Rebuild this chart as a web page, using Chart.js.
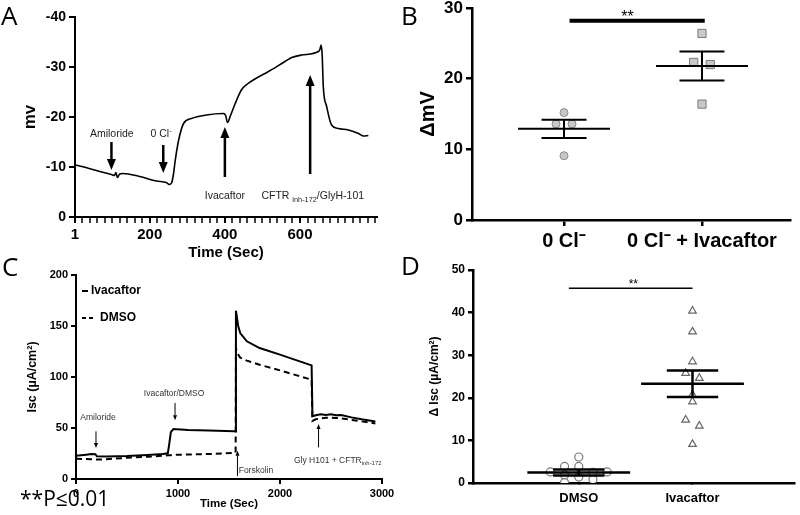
<!DOCTYPE html>
<html>
<head>
<meta charset="utf-8">
<script src="https://cdn.jsdelivr.net/npm/chart.js@4.4.0/dist/chart.umd.min.js"></script>
<style>
  body { margin: 0; background: #fff; width: 800px; height: 515px; position: relative; overflow: hidden; }
  canvas { position: absolute; left: 0; top: -20px; }
  .panel { position: absolute; font-family: "Open Sans", "Noto Sans", sans-serif; color: #000; line-height: 1; }
</style>
</head>
<body>
<canvas id="chartA" width="800" height="555"></canvas>
<canvas id="chartB" width="800" height="555"></canvas>
<canvas id="chartC" width="800" height="555"></canvas>
<canvas id="chartD" width="800" height="555"></canvas>
<div class="panel" style="left:1px;top:2px;font-size:26px">A</div>
<div class="panel" style="left:401px;top:2px;font-size:26px">B</div>
<div class="panel" style="left:2px;top:253px;font-size:26px">C</div>
<div class="panel" style="left:401px;top:252px;font-size:26px">D</div>
<div class="panel" style="left:20px;top:488px;font-size:21px">**P≤0.01</div>
<script>
// ---- Panel A: voltage trace ----
const aTime = [1, 30, 67, 98, 106, 110, 114, 120, 129, 173, 218, 244, 252, 258, 263, 268, 277, 290, 311, 351,
  396, 402, 407, 415, 427, 444, 460, 480, 516, 560, 578, 604, 649, 653, 656, 659, 662, 671, 684, 702,
  729, 756, 769, 782];
const aMv = [-10.4, -9.9, -9.1, -8.5, -8.3, -8.9, -7.9, -8.6, -8.7, -8.1, -7.2, -6.9, -6.5, -6.8, -8.5, -11.4, -15.4, -18.7, -19.7, -20.4,
  -20.7, -20.3, -18.9, -20.3, -22.6, -25.4, -26.6, -27.6, -29.1, -31.1, -31.9, -32.4, -33.1, -33.5, -34.4, -32.5, -26.1, -22.1, -18.4, -17.7,
  -17.4, -16.7, -16.2, -16.3];
const aXMajor = [1, 200, 400, 600];
const aXLabels = ["1", "200", "400", "600"];

// ---- Panel B: delta mV ----
const bGroups = ["0 Cl⁻", "0 Cl⁻ + Ivacaftor"];
const bCtrl = [15.2, 13.6, 13.6, 9.1];
const bCtrlX = [0, -0.058, 0.058, 0];
const bIva = [26.4, 22.3, 22.0, 16.4];
const bIvaX = [0, -0.06, 0.06, 0];
const bMean = [12.9, 21.8];
const bSem = [1.3, 2.05];

// ---- Panel C: Isc traces ----
const cTime = [0, 100, 150, 190, 205, 300, 500, 700, 850, 900, 915, 930, 955, 1100, 1300, 1550, 1565, 1568, 1590, 1610,
  1675, 1800, 2000, 2165, 2310, 2318, 2350, 2400, 2450, 2500, 2550, 2600, 2700, 2800, 2935];
const cIvacaftor = [22.8, 23.8, 24.4, 24.3, 22.3, 22.0, 22.5, 23.5, 24.5, 25.2, 35, 46, 49, 48, 47.6, 46.8, 46.7, 165, 150, 143,
  135, 128.4, 121.9, 116.3, 111.4, 61.4, 62.5, 63.5, 62.8, 63.5, 62.6, 62.8, 60.4, 58.5, 56.3];
const cDmso = [19.9, 19.6, 19.3, 19.0, 19.0, 19.4, 20.8, 21.8, 22.8, 23.2, 23.3, 23.4, 23.6, 24.0, 24.5, 25.5, 26.0, 128, 122, 119,
  116, 112, 106.5, 101.6, 97.3, 57.0, 58.5, 59.5, 60.0, 60.0, 59.8, 59.5, 58.0, 56.5, 54.5];

// ---- Panel D: delta Isc ----
const dGroups = ["DMSO", "Ivacaftor"];
const dDmso = [2.6, 3.9, 1.9, 0.1, 6.1, 3.9, 1.4, 2.5, 0.8, 2.6];
const dDmsoX = [-0.25, -0.125, -0.125, -0.125, 0, 0, 0, 0.125, 0.125, 0.25];
const dIva = [40.4, 35.5, 28.5, 25.8, 24.6, 20.7, 19.1, 14.8, 13.4, 9.1];
const dIvaX = [0, 0, 0, -0.06, 0.06, 0, 0, -0.06, 0.06, 0];
const dMean = [2.45, 23.3];
const dSem = [0.7, 3.1];

const FONT = '"Liberation Sans", Arial, sans-serif';
Chart.defaults.font.family = FONT;
Chart.defaults.color = '#000';
Chart.defaults.animation = false;
Chart.defaults.responsive = false;
Chart.defaults.plugins.legend.display = false;
Chart.defaults.plugins.tooltip.enabled = false;

// text with sub/superscript pieces, centered or left aligned
function drawRich(ctx, parts, x, y, size, align) {
  let total = 0;
  parts.forEach(p => {
    ctx.font = (p.sub || p.sup ? size * 0.7 : size) + 'px ' + FONT;
    p.w = ctx.measureText(p.t).width;
    total += p.w;
  });
  let cx = align === 'left' ? x : x - total / 2;
  ctx.textAlign = 'left';
  ctx.textBaseline = 'middle';
  parts.forEach(p => {
    ctx.font = (p.sub || p.sup ? size * 0.7 : size) + 'px ' + FONT;
    const dy = p.sub ? size * 0.35 : p.sup ? -size * 0.3 : 0;
    ctx.fillText(p.t, cx, y + dy);
    cx += p.w;
  });
}

function drawArrow(ctx, x, y0, y1, lw, headW, headL) {
  const dir = y1 > y0 ? 1 : -1;
  ctx.lineWidth = lw;
  ctx.beginPath();
  ctx.moveTo(x, y0);
  ctx.lineTo(x, y1 - dir * headL);
  ctx.stroke();
  ctx.beginPath();
  ctx.moveTo(x, y1);
  ctx.lineTo(x - headW / 2, y1 - dir * headL);
  ctx.lineTo(x + headW / 2, y1 - dir * headL);
  ctx.closePath();
  ctx.fill();
}

// arrows + labels placed in data units
function markerPlugin(marks, style) {
  return {
    id: 'markers',
    afterDatasetsDraw(chart) {
      const { ctx, scales: { x, y } } = chart;
      ctx.save();
      ctx.strokeStyle = '#000';
      ctx.fillStyle = '#000';
      marks.forEach(m => {
        drawArrow(ctx, x.getPixelForValue(m.t), y.getPixelForValue(m.from), y.getPixelForValue(m.to),
          style.lw, style.headW, style.headL);
      });
      ctx.fillStyle = style.textColor;
      marks.forEach(m => {
        drawRich(ctx, m.label, x.getPixelForValue(m.textT), y.getPixelForValue(m.textV), style.size, m.align);
      });
      ctx.restore();
    }
  };
}

// small legend inside the plot, top-left
const insideLegend = {
  id: 'insideLegend',
  afterDraw(chart) {
    const { ctx, chartArea } = chart;
    chart.data.datasets.forEach((ds, i) => {
      const y = chartArea.top + 16 + i * 27;
      const dashed = !!ds.borderDash;
      ctx.save();
      ctx.strokeStyle = ds.borderColor;
      ctx.lineWidth = ds.borderWidth;
      ctx.setLineDash(dashed ? [4, 3] : []);
      ctx.beginPath();
      ctx.moveTo(chartArea.left + 6, y);
      ctx.lineTo(chartArea.left + (dashed ? 20 : 12), y);
      ctx.stroke();
      ctx.fillStyle = '#000';
      ctx.font = 'bold 12px ' + FONT;
      ctx.textBaseline = 'middle';
      ctx.fillText(ds.label, chartArea.left + (dashed ? 24 : 15), y);
      ctx.restore();
    });
  }
};

// mean + SEM bars and significance line
function meanSemPlugin(means, sems, cfg) {
  return {
    id: 'meanSem',
    afterDatasetsDraw(chart) {
      const { ctx, scales: { x, y } } = chart;
      ctx.save();
      ctx.strokeStyle = '#000';
      ctx.lineWidth = cfg.lineWidth;
      means.forEach((m, i) => {
        const c = i + 1;
        const xc = x.getPixelForValue(c);
        const yM = y.getPixelForValue(m);
        const yHi = y.getPixelForValue(m + sems[i]);
        const yLo = y.getPixelForValue(m - sems[i]);
        ctx.beginPath();
        ctx.moveTo(x.getPixelForValue(c - cfg.meanHalf), yM);
        ctx.lineTo(x.getPixelForValue(c + cfg.meanHalf), yM);
        [yHi, yLo].forEach(yy => {
          ctx.moveTo(x.getPixelForValue(c - cfg.capHalf), yy);
          ctx.lineTo(x.getPixelForValue(c + cfg.capHalf), yy);
        });
        ctx.moveTo(xc, yHi);
        ctx.lineTo(xc, yLo);
        ctx.stroke();
      });
      const s = cfg.sig;
      const ys = y.getPixelForValue(s.level);
      ctx.lineWidth = s.lineWidth;
      ctx.beginPath();
      ctx.moveTo(x.getPixelForValue(s.from), ys);
      ctx.lineTo(x.getPixelForValue(s.to), ys);
      ctx.stroke();
      ctx.fillStyle = '#000';
      ctx.font = s.size + 'px ' + FONT;
      ctx.textAlign = 'center';
      ctx.textBaseline = 'alphabetic';
      ctx.fillText('**', x.getPixelForValue(s.textX), ys + s.textDy);
      ctx.restore();
    }
  };
}

function axis(lw, tickLen, size) {
  return {
    grid: { display: true, drawOnChartArea: false, drawTicks: true, tickLength: tickLen, tickWidth: lw, tickColor: '#000', color: '#000', lineWidth: lw },
    border: { display: true, color: '#000', width: lw },
    ticks: { font: { size: size, weight: 'bold' }, color: '#000', autoSkip: false, maxRotation: 0, padding: 3 }
  };
}

// ---- A ----
const aXTicks = [];
for (let v = 20; v <= 800; v += 20) aXTicks.push(v);
aXTicks.unshift(1);
const aMarks = [
  { t: 98, from: -15, to: -9.4, textT: 99, textV: -16.6, label: [{ t: 'Amiloride' }] },
  { t: 236, from: -14.4, to: -8.8, textT: 230, textV: -16.6, label: [{ t: '0 Cl' }, { t: '-', sup: true }] },
  { t: 400, from: -8, to: -18, textT: 400, textV: -4.1, label: [{ t: 'Ivacaftor' }] },
  { t: 627, from: -8.6, to: -28.4, textT: 634, textV: -4.1, label: [{ t: 'CFTR ' }, { t: 'inh-172', sub: true }, { t: '/GlyH-101' }] }
];
const axA = axis(2, 6, 15);
axA.grid.tickWidth = c => (c.tick && aXMajor.includes(c.tick.value) ? 2 : 1.5);
const ayA = axis(2, 6, 14);
new Chart(document.getElementById('chartA'), {
  type: 'line',
  data: { datasets: [{ data: aTime.map((t, i) => ({ x: t, y: aMv[i] })), borderColor: '#000', borderWidth: 1.6,
    pointRadius: 0, cubicInterpolationMode: 'monotone' }] },
  options: {
    layout: { padding: { left: 15, right: 423, top: 37, bottom: 273 } },
    scales: {
      x: Object.assign(axA, {
        type: 'linear', min: 1, max: 805,
        afterBuildTicks: s => { s.ticks = aXTicks.map(v => ({ value: v })); },
        afterFit: s => { s.height = 45; },
        ticks: Object.assign(axA.ticks, { callback: v => { const i = aXMajor.indexOf(v); return i >= 0 ? aXLabels[i] : ''; } }),
        title: { display: true, text: 'Time (Sec)', font: { size: 15, weight: 'bold' }, padding: 0 }
      }),
      y: Object.assign(ayA, {
        reverse: true, min: -40, max: 0,
        ticks: Object.assign(ayA.ticks, { stepSize: 10 }),
        afterFit: s => { s.width = 60; },
        title: { display: true, text: 'mv', font: { size: 17, weight: 'bold' }, padding: 5 }
      })
    }
  },
  plugins: [markerPlugin(aMarks, { lw: 2.5, headW: 9, headL: 11, size: 10.5, textColor: '#222' })]
});

// ---- B ----
const axB = axis(2.5, 6, 20);
const ayB = axis(2.5, 6, 17);
new Chart(document.getElementById('chartB'), {
  type: 'scatter',
  data: { datasets: [
    { data: bCtrl.map((v, i) => ({ x: 1 + bCtrlX[i], y: v })), pointStyle: 'circle', pointRadius: 4,
      backgroundColor: '#c8c8c8', borderColor: '#8a8a8a', borderWidth: 1 },
    { data: bIva.map((v, i) => ({ x: 2 + bIvaX[i], y: v })), pointStyle: 'rect', pointRadius: 5.8,
      backgroundColor: '#c8c8c8', borderColor: '#7a7a7a', borderWidth: 1 }
  ] },
  options: {
    layout: { padding: { left: 416, right: 10, top: 28, bottom: 275 } },
    scales: {
      x: Object.assign(axB, {
        type: 'linear', min: 0.333, max: 2.638,
        afterBuildTicks: s => { s.ticks = [{ value: 1 }, { value: 2 }]; },
        afterFit: s => { s.height = 40; },
        ticks: Object.assign(axB.ticks, { callback: v => bGroups[v - 1] })
      }),
      y: Object.assign(ayB, {
        min: 0, max: 30,
        ticks: Object.assign(ayB.ticks, { stepSize: 10 }),
        afterFit: s => { s.width = 56; },
        title: { display: true, text: 'ΔmV', font: { size: 20, weight: 'bold' }, padding: 0 }
      })
    }
  },
  plugins: [meanSemPlugin(bMean, bSem, { lineWidth: 2, meanHalf: 0.333, capHalf: 0.163,
    sig: { from: 1.04, to: 2.02, level: 28.2, lineWidth: 4, size: 16, textX: 1.46, textDy: 1 } })]
});

// ---- C ----
const cMarks = [
  { t: 196, from: 46.7, to: 30.4, textT: 216, textV: 59.8, label: [{ t: 'Amiloride' }] },
  { t: 971, from: 74.5, to: 57.5, textT: 961, textV: 83.3, label: [{ t: 'Ivacaftor/DMSO' }] },
  { t: 1583, from: 3, to: 27.7, textT: 1595, textV: 8.1, align: 'left', label: [{ t: 'Forskolin' }] },
  { t: 2378, from: 31, to: 53.9, textT: 2566, textV: 17.9, label: [{ t: 'Gly H101 + CFTR' }, { t: 'inh-172', sub: true }] }
];
const axC = axis(2, 5, 11);
const ayC = axis(2, 5, 11);
new Chart(document.getElementById('chartC'), {
  type: 'line',
  data: { datasets: [
    { label: 'Ivacaftor', data: cTime.map((t, i) => ({ x: t, y: cIvacaftor[i] })), borderColor: '#000',
      borderWidth: 2, pointRadius: 0, tension: 0 },
    { label: 'DMSO', data: cTime.map((t, i) => ({ x: t, y: cDmso[i] })), borderColor: '#000',
      borderWidth: 2, borderDash: [6, 4], pointRadius: 0, tension: 0 }
  ] },
  options: {
    layout: { padding: { left: 21, right: 418, top: 295, bottom: 20 } },
    scales: {
      x: Object.assign(axC, {
        type: 'linear', min: 0, max: 3000,
        ticks: Object.assign(axC.ticks, { stepSize: 1000, callback: v => String(v) }),
        afterFit: s => { s.height = 36; },
        title: { display: true, text: 'Time (Sec)', font: { size: 11.5, weight: 'bold' }, padding: 4 }
      }),
      y: Object.assign(ayC, {
        min: 0, max: 200,
        ticks: Object.assign(ayC.ticks, { stepSize: 50 }),
        afterFit: s => { s.width = 55; },
        title: { display: true, text: 'Isc (µA/cm²)', font: { size: 12.5, weight: 'bold' }, padding: 4 }
      })
    }
  },
  plugins: [markerPlugin(cMarks, { lw: 1, headW: 4, headL: 5, size: 8.5, textColor: '#333' }), insideLegend]
});

// ---- D ----
const axD = axis(2.5, 0, 13);
const ayD = axis(2.5, 5, 12);
new Chart(document.getElementById('chartD'), {
  type: 'scatter',
  data: { datasets: [
    { data: dDmso.map((v, i) => ({ x: 1 + dDmsoX[i], y: v })), pointStyle: 'circle', pointRadius: 4,
      backgroundColor: '#fff', borderColor: '#777', borderWidth: 1.2 },
    { data: dIva.map((v, i) => ({ x: 2 + dIvaX[i], y: v })), pointStyle: 'triangle', pointRadius: 4.4,
      backgroundColor: '#fff', borderColor: '#666', borderWidth: 1.2 }
  ] },
  options: {
    layout: { padding: { left: 423, right: 2, top: 290, bottom: 22 } },
    scales: {
      x: Object.assign(axD, {
        type: 'linear', min: 0.07, max: 2.896,
        afterBuildTicks: s => { s.ticks = [{ value: 1 }, { value: 2 }]; },
        afterFit: s => { s.height = 30; },
        ticks: Object.assign(axD.ticks, { padding: 8, callback: v => dGroups[v - 1] })
      }),
      y: Object.assign(ayD, {
        min: 0, max: 50,
        ticks: Object.assign(ayD.ticks, { stepSize: 10 }),
        afterFit: s => { s.width = 50; },
        title: { display: true, text: 'Δ Isc (µA/cm²)', font: { size: 12, weight: 'bold' }, padding: 4 }
      })
    }
  },
  plugins: [meanSemPlugin(dMean, dSem, { lineWidth: 2.5, meanHalf: 0.452, capHalf: 0.226,
    sig: { from: 0.913, to: 2.0, level: 45.7, lineWidth: 1.5, size: 12, textX: 1.48, textDy: 0 } })]
});
</script>
</body>
</html>
